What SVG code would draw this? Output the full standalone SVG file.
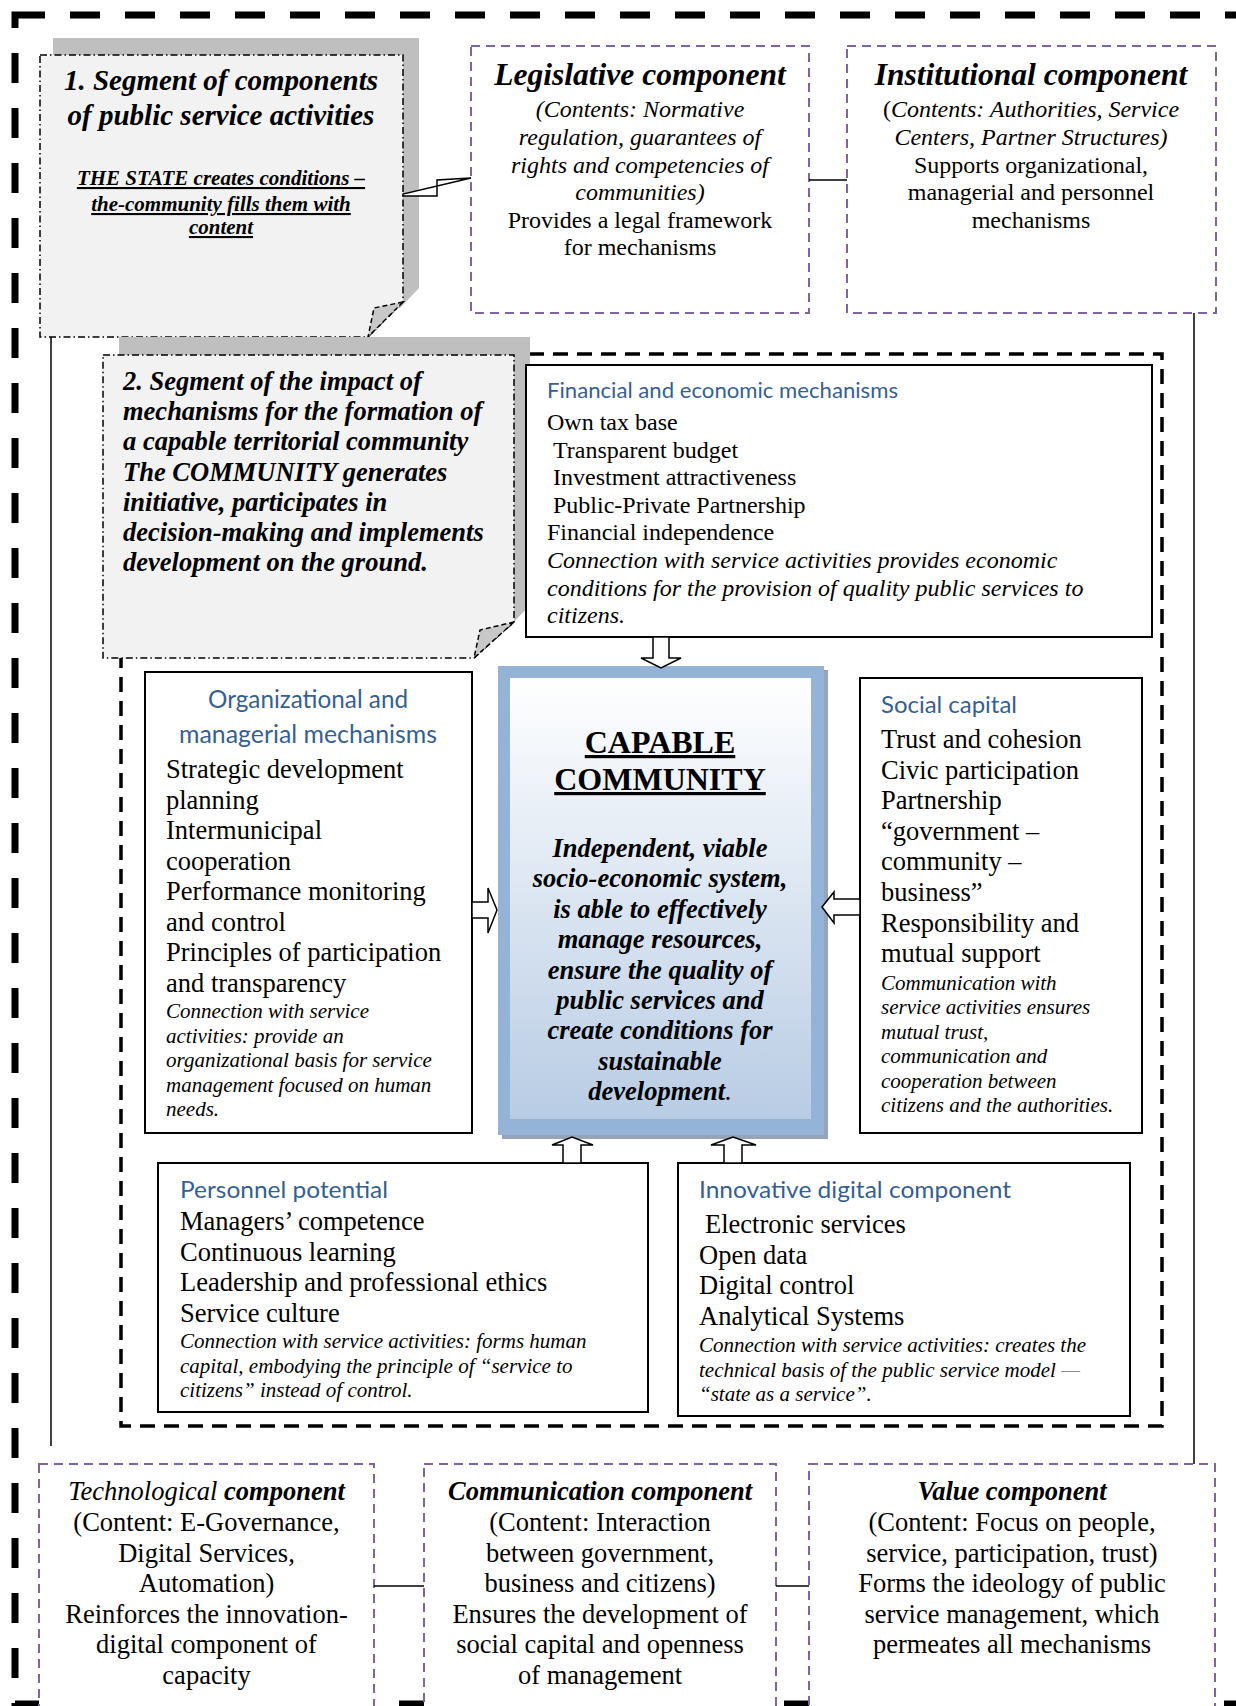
<svg xmlns="http://www.w3.org/2000/svg" width="1236" height="1706" viewBox="0 0 1236 1706">
<defs>
<style>
text{font-family:"Liberation Serif","Times New Roman",serif;fill:#000}
.t24{font-size:24px}
.t26{font-size:26.5px}
.i24{font-size:24px;font-style:italic}
.i21{font-size:21px;font-style:italic}
.bi{font-weight:bold;font-style:italic}
.c{text-anchor:middle}
.h{font-family:Lato,"Open Sans",sans-serif;fill:#365f91}
.purple{fill:#fff;stroke:#8064a2;stroke-width:2;stroke-dasharray:9 6}
.mbox{fill:#fff;stroke:#000;stroke-width:2}
.seg{fill:#f2f2f2;stroke:#000;stroke-width:1.5;stroke-dasharray:7 3 1.5 3}
.shadow{fill:#bfbfbf}
.fold{fill:#c8c8c8;stroke:#000;stroke-width:1.5;stroke-dasharray:5 3}
.line{stroke:#000;stroke-width:1.5;fill:none}
.harrow{fill:#fff;stroke:#000;stroke-width:1.5}
</style>
<linearGradient id="cg" x1="0" y1="0" x2="0" y2="1">
<stop offset="0" stop-color="#ffffff"/>
<stop offset="1" stop-color="#b8cce4"/>
</linearGradient>
</defs>

<g id="outer-frame">
<rect x="15" y="15" width="1260" height="1689" fill="none" stroke="#000" stroke-width="7" stroke-dasharray="30 25"/>
</g>

<g id="mechanisms-frame">
<rect x="121" y="354" width="1041" height="1072" fill="none" stroke="#000" stroke-width="3.5" stroke-dasharray="15 9"/>
</g>

<g id="segment-1">
<polygon class="shadow" points="53,38 419,38 419,288 400,308 53,308"/>
<polygon class="seg" points="40,55 403,55 403,302 368,337 40,337"/>
<polygon class="fold" points="403,302 374,308 368,337"/>
<text class="bi c" font-size="29" x="221" y="90">1. Segment of components</text>
<text class="bi c" font-size="29" x="221" y="125">of public service activities</text>
<text class="bi c" font-size="21" text-decoration="underline" x="221" y="185">THE STATE creates conditions –</text>
<text class="bi c" font-size="21" text-decoration="underline" x="221" y="211">the-community fills them with</text>
<text class="bi c" font-size="21" text-decoration="underline" x="221" y="234">content</text>
</g>

<g id="legislative-component">
<rect class="purple" x="471" y="46" width="338" height="267"/>
<text class="bi c" font-size="31.5" x="640" y="85">Legislative component</text>
<text class="i24 c" x="640" y="117">(Contents: Normative</text>
<text class="i24 c" x="640" y="145">regulation, guarantees of</text>
<text class="i24 c" x="640" y="172.5">rights and competencies of</text>
<text class="i24 c" x="640" y="200">communities)</text>
<text class="t24 c" x="640" y="228">Provides a legal framework</text>
<text class="t24 c" x="640" y="255">for mechanisms</text>
</g>

<g id="institutional-component">
<rect class="purple" x="847" y="46" width="369" height="267"/>
<text class="bi c" font-size="31.5" x="1031" y="85">Institutional component</text>
<text class="t24 c" x="1031" y="117">(<tspan font-style="italic">Contents: Authorities, Service</tspan></text>
<text class="i24 c" x="1031" y="145">Centers, Partner Structures)</text>
<text class="t24 c" x="1031" y="173">Supports organizational,</text>
<text class="t24 c" x="1031" y="200">managerial and personnel</text>
<text class="t24 c" x="1031" y="228">mechanisms</text>
</g>

<g id="segment-2">
<polygon class="shadow" points="119,337 530,337 530,605 511,625 119,625"/>
<polygon class="seg" points="103,355 514,355 514,622 474,658 103,658"/>
<polygon class="fold" points="514,622 480,630 474,658"/>
<text class="bi" font-size="26.5" x="123" y="390">2. Segment of the impact of</text>
<text class="bi" font-size="26.5" x="123" y="420">mechanisms for the formation of</text>
<text class="bi" font-size="26.5" x="123" y="450">a capable territorial community</text>
<text class="bi" font-size="26.5" x="123" y="480.5">The COMMUNITY generates</text>
<text class="bi" font-size="26.5" x="123" y="511">initiative, participates in</text>
<text class="bi" font-size="26.5" x="123" y="541">decision-making and implements</text>
<text class="bi" font-size="26.5" x="123" y="571">development on the ground.</text>
</g>

<g id="financial-economic">
<rect class="mbox" x="526" y="365" width="626" height="272"/>
<text class="h" font-size="22" x="547" y="398" textLength="351" lengthAdjust="spacingAndGlyphs">Financial and economic mechanisms</text>
<text class="t24" x="547" y="430">Own tax base</text>
<text class="t24" x="553" y="458">Transparent budget</text>
<text class="t24" x="553" y="485">Investment attractiveness</text>
<text class="t24" x="553" y="513">Public-Private Partnership</text>
<text class="t24" x="547" y="540">Financial independence</text>
<text class="i24" x="547" y="568">Connection with service activities provides economic</text>
<text class="i24" x="547" y="596">conditions for the provision of quality public services to</text>
<text class="i24" x="547" y="623">citizens.</text>
</g>

<g id="capable-community">
<rect x="502" y="670" width="326" height="469" fill="#97a3b6"/>
<rect x="498" y="666" width="326" height="469" fill="#95b3d7"/>
<rect x="510" y="678" width="301" height="441" fill="url(#cg)"/>
<text class="c" font-weight="bold" font-size="32" text-decoration="underline" x="660" y="753">CAPABLE</text>
<text class="c" font-weight="bold" font-size="32" text-decoration="underline" x="660" y="790">COMMUNITY</text>
<text class="bi c" font-size="26.5" x="660" y="857">Independent, viable</text>
<text class="bi c" font-size="26.5" x="660" y="887.4">socio-economic system,</text>
<text class="bi c" font-size="26.5" x="660" y="917.8">is able to effectively</text>
<text class="bi c" font-size="26.5" x="660" y="948.2">manage resources,</text>
<text class="bi c" font-size="26.5" x="660" y="978.6">ensure the quality of</text>
<text class="bi c" font-size="26.5" x="660" y="1009">public services and</text>
<text class="bi c" font-size="26.5" x="660" y="1039.4">create conditions for</text>
<text class="bi c" font-size="26.5" x="660" y="1069.8">sustainable</text>
<text class="bi c" font-size="26.5" x="660" y="1100.2">development<tspan font-weight="normal">.</tspan></text>
</g>

<g id="organizational-managerial">
<rect class="mbox" x="145" y="672" width="327" height="461"/>
<text class="h c" font-size="24.5" x="308" y="708" textLength="200" lengthAdjust="spacingAndGlyphs">Organizational and</text>
<text class="h c" font-size="24.5" x="308" y="743" textLength="258" lengthAdjust="spacingAndGlyphs">managerial mechanisms</text>
<text class="t26" x="166" y="778">Strategic development</text>
<text class="t26" x="166" y="808.5">planning</text>
<text class="t26" x="166" y="839">Intermunicipal</text>
<text class="t26" x="166" y="869.5">cooperation</text>
<text class="t26" x="166" y="900">Performance monitoring</text>
<text class="t26" x="166" y="930.5">and control</text>
<text class="t26" x="166" y="961">Principles of participation</text>
<text class="t26" x="166" y="991.5">and transparency</text>
<text class="i21" x="166" y="1018">Connection with service</text>
<text class="i21" x="166" y="1042.5">activities: provide an</text>
<text class="i21" x="166" y="1067">organizational basis for service</text>
<text class="i21" x="166" y="1091.5">management focused on human</text>
<text class="i21" x="166" y="1116">needs.</text>
</g>

<g id="social-capital">
<rect class="mbox" x="860" y="678" width="282" height="455"/>
<text class="h" font-size="23" x="881" y="713" textLength="136" lengthAdjust="spacingAndGlyphs">Social capital</text>
<text class="t26" x="881" y="748">Trust and cohesion</text>
<text class="t26" x="881" y="778.6">Civic participation</text>
<text class="t26" x="881" y="809.2">Partnership</text>
<text class="t26" x="881" y="839.8">“government –</text>
<text class="t26" x="881" y="870.4">community –</text>
<text class="t26" x="881" y="901">business”</text>
<text class="t26" x="881" y="931.6">Responsibility and</text>
<text class="t26" x="881" y="962.2">mutual support</text>
<text class="i21" x="881" y="990">Communication with</text>
<text class="i21" x="881" y="1014.4">service activities ensures</text>
<text class="i21" x="881" y="1038.8">mutual trust,</text>
<text class="i21" x="881" y="1063.2">communication and</text>
<text class="i21" x="881" y="1087.6">cooperation between</text>
<text class="i21" x="881" y="1112">citizens and the authorities.</text>
</g>

<g id="personnel-potential">
<rect class="mbox" x="158" y="1163" width="490" height="249"/>
<text class="h" font-size="23" x="180" y="1198" textLength="208" lengthAdjust="spacingAndGlyphs">Personnel potential</text>
<text class="t26" x="180" y="1230">Managers’ competence</text>
<text class="t26" x="180" y="1260.5">Continuous learning</text>
<text class="t26" x="180" y="1291">Leadership and professional ethics</text>
<text class="t26" x="180" y="1321.5">Service culture</text>
<text class="i21" x="180" y="1348">Connection with service activities: forms human</text>
<text class="i21" x="180" y="1372.5">capital, embodying the principle of “service to</text>
<text class="i21" x="180" y="1397">citizens” instead of control.</text>
</g>

<g id="innovative-digital">
<rect class="mbox" x="678" y="1163" width="452" height="253"/>
<text class="h" font-size="23" x="699" y="1198" textLength="312" lengthAdjust="spacingAndGlyphs">Innovative digital component</text>
<text class="t26" x="705" y="1233">Electronic services</text>
<text class="t26" x="699" y="1263.5">Open data</text>
<text class="t26" x="699" y="1294">Digital control</text>
<text class="t26" x="699" y="1324.5">Analytical Systems</text>
<text class="i21" x="699" y="1352">Connection with service activities: creates the</text>
<text class="i21" x="699" y="1376.5">technical basis of the public service model <tspan fill="#8c8c8c">—</tspan></text>
<text class="i21" x="699" y="1401">“state as a service”.</text>
</g>

<g id="technological-component">
<rect class="purple" x="39" y="1464" width="335" height="262"/>
<text class="t26 c" x="206.5" y="1500"><tspan font-style="italic">Technological</tspan> <tspan font-weight="bold" font-style="italic">component</tspan></text>
<text class="t26 c" x="206.5" y="1531">(Content: E-Governance,</text>
<text class="t26 c" x="206.5" y="1561.5">Digital Services,</text>
<text class="t26 c" x="206.5" y="1592">Automation)</text>
<text class="t26 c" x="206.5" y="1622.5">Reinforces the innovation-</text>
<text class="t26 c" x="206.5" y="1653">digital component of</text>
<text class="t26 c" x="206.5" y="1683.5">capacity</text>
</g>

<g id="communication-component">
<rect class="purple" x="424" y="1464" width="352" height="262"/>
<text class="bi c" font-size="26.5" x="600" y="1500">Communication component</text>
<text class="t26 c" x="600" y="1531">(Content: Interaction</text>
<text class="t26 c" x="600" y="1561.5">between government,</text>
<text class="t26 c" x="600" y="1592">business and citizens)</text>
<text class="t26 c" x="600" y="1622.5">Ensures the development of</text>
<text class="t26 c" x="600" y="1653">social capital and openness</text>
<text class="t26 c" x="600" y="1683.5">of management</text>
</g>

<g id="value-component">
<rect class="purple" x="809" y="1464" width="406" height="262"/>
<text class="bi c" font-size="26.5" x="1012" y="1500">Value component</text>
<text class="t26 c" x="1012" y="1531">(Content: Focus on people,</text>
<text class="t26 c" x="1012" y="1561.5">service, participation, trust)</text>
<text class="t26 c" x="1012" y="1592">Forms the ideology of public</text>
<text class="t26 c" x="1012" y="1622.5">service management, which</text>
<text class="t26 c" x="1012" y="1653">permeates all mechanisms</text>
</g>

<g id="connectors">
<polygon points="403,196 437,196 437,180 471,178 403,194" fill="#fff" stroke="#000" stroke-width="1.5"/>
<line class="line" x1="809" y1="180" x2="847" y2="180"/>
<line class="line" x1="51" y1="337" x2="51" y2="1446"/>
<line class="line" x1="1194" y1="313" x2="1194" y2="1464"/>
<line class="line" x1="374" y1="1586" x2="424" y2="1586"/>
<line class="line" x1="776" y1="1586" x2="809" y2="1586"/>
<polygon class="harrow" points="653,637 669,637 669,658 681,658 661,668 641,658 653,658"/>
<polygon class="harrow" points="472,902 488,902 488,888 497,910 488,933 488,918 472,918"/>
<polygon class="harrow" points="860,899 834,899 834,892 822,907 834,923 834,915 860,915"/>
<polygon class="harrow" points="563,1163 563,1145 552,1145 572,1137 593,1145 581,1145 581,1163"/>
<polygon class="harrow" points="724,1163 724,1145 711,1145 733,1137 756,1145 742,1145 742,1163"/>
</g>
</svg>
